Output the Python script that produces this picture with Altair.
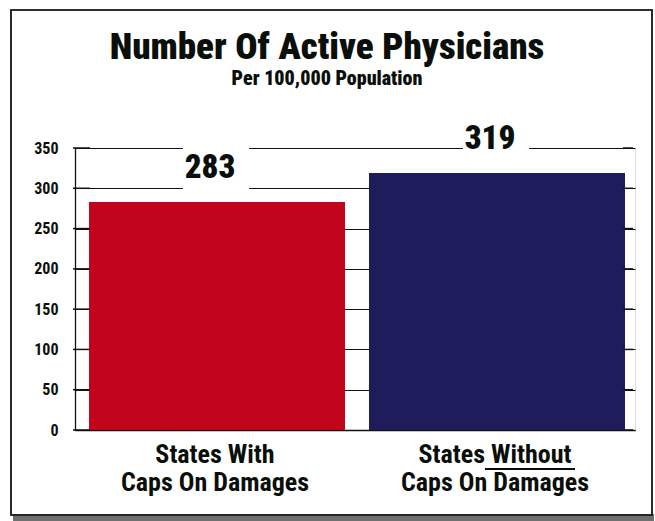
import altair as alt
import pandas as pd

categories = ["States With|Caps On Damages", "States Without|Caps On Damages"]
values = [283, 319]
bar_colors = ["#C2051C", "#1F1C5C"]
tick_values = [0, 50, 100, 150, 200, 250, 300, 350]
title_text = "Number Of Active Physicians"
subtitle_text = "Per 100,000 Population"

FONT = "Roboto Condensed, DejaVu Sans Condensed, Liberation Sans Narrow, Roboto, sans-serif"

df = pd.DataFrame({"cat": categories, "val": values, "color": bar_colors})
df["box_lo"] = df["val"] + 15
df["box_hi"] = df["val"] + 71
ticks_df = pd.DataFrame({"t": tick_values})
titles_df = pd.DataFrame({"txt": [title_text]})
sub_df = pd.DataFrame({"txt": [subtitle_text]})

W, H = 560, 282

xenc = alt.X(
    "cat:N",
    sort=categories,
    scale=alt.Scale(paddingInner=0.0, paddingOuter=0.0),
    axis=alt.Axis(
        title=None,
        labelExpr="split(datum.label, '|')",
        labelAngle=0,
        labelFont=FONT,
        labelFontWeight="bold",
        labelFontSize=26,
        labelLineHeight=28,
        labelColor="#0a0f0a",
        labelPadding=11,
        labelLimit=0,
        ticks=False,
        domain=True,
        domainColor="#111111",
        domainWidth=1.3,
        grid=False,
    ),
)
yscale = alt.Scale(domain=[0, 350], nice=False)
yenc = alt.Y(
    "val:Q",
    scale=yscale,
    axis=alt.Axis(
        title=None,
        values=tick_values,
        labelFont=FONT,
        labelFontWeight="bold",
        labelFontSize=16,
        labelColor="#0a0f0a",
        labelPadding=17,
        ticks=False,
        domain=True,
        domainColor="#111111",
        domainWidth=1.3,
        grid=True,
        gridColor="#111111",
        gridWidth=1.2,
    ),
)

base = alt.Chart(df)

shadow = base.mark_rect(color="#6f6f6f").encode(
    x=alt.value(-62), x2=alt.value(579), y=alt.value(366), y2=alt.value(373)
)
frame = base.mark_rect(fillOpacity=0, stroke="#222222", strokeWidth=1.6).encode(
    x=alt.value(-64), x2=alt.value(577), y=alt.value(-138), y2=alt.value(367)
)

bars = base.mark_bar(size=256, xOffset=2).encode(
    x=xenc,
    y=yenc,
    color=alt.Color("color:N", scale=None),
)

boxes = base.mark_bar(size=66, color="white", xOffset=1).encode(
    x=alt.X("cat:N", sort=categories),
    y=alt.Y("box_lo:Q", scale=yscale),
    y2="box_hi:Q",
)

labels = base.mark_text(
    font=FONT, fontWeight=900, fontSize=33, color="#0a0f0a",
    baseline="middle", dy=-34, dx=-5,
).encode(
    x=alt.X("cat:N", sort=categories),
    y=alt.Y("val:Q", scale=yscale),
    text=alt.Text("val:Q"),
)

left_ticks = alt.Chart(ticks_df).mark_rule(color="#111111", strokeWidth=1.5).encode(
    y=alt.Y("t:Q", scale=yscale), x=alt.value(-2), x2=alt.value(15)
)
right_ticks = alt.Chart(ticks_df).mark_rule(color="#111111", strokeWidth=1.5).encode(
    y=alt.Y("t:Q", scale=yscale), x=alt.value(548), x2=alt.value(558)
)

underline = base.mark_rule(color="#0a0f0a", strokeWidth=2).encode(
    x=alt.value(410), x2=alt.value(500), y=alt.value(321)
)

title = alt.Chart(titles_df).mark_text(
    font=FONT, fontWeight=900, fontSize=37, color="#0a0f0a", baseline="middle"
).encode(text="txt:N", x=alt.value(252), y=alt.value(-100))
subtitle = alt.Chart(sub_df).mark_text(
    font=FONT, fontWeight=900, fontSize=20, color="#0a0f0a", baseline="middle"
).encode(text="txt:N", x=alt.value(252), y=alt.value(-69))

chart = alt.layer(
    shadow, frame, bars, boxes, labels, left_ticks, right_ticks, underline,
    title, subtitle
).properties(
    width=W,
    height=H,
    autosize=alt.AutoSizeParams(type="none"),
    padding={"left": 75, "top": 148, "right": 20, "bottom": 91},
).configure_view(stroke=None).configure(background="white")

chart.save("out.html", embed_options={"renderer": "svg", "actions": False})
